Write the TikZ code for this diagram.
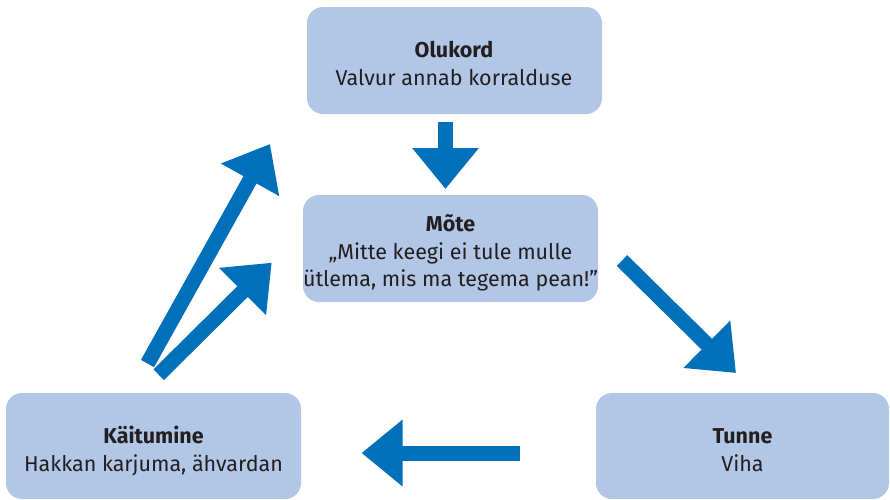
\documentclass[tikz,border=0pt]{standalone}
\usepackage{fontspec}
\setmainfont{Fira Sans}
\usetikzlibrary{arrows.meta}
\definecolor{boxfill}{HTML}{B2C6E6}
\definecolor{arrowblue}{HTML}{0070BA}
\definecolor{txt}{HTML}{231F20}
\tikzset{
  box/.style={draw=none, fill=boxfill, rounded corners=16pt, inner sep=0pt},
  lbl/.style={anchor=base, inner sep=0pt, text=txt, font=\fontsize{21.5}{27}\selectfont},
  ttl/.style={lbl, font=\fontsize{21.5}{27}\selectfont\bfseries},
  bigarrow/.style={draw=arrowblue, line width=15pt, line cap=butt,
    -{Triangle[width=64pt,length=41pt]}},
}
\begin{document}
\begin{tikzpicture}[x=1pt,y=-1pt]
\useasboundingbox (0,0) rectangle (890,499);
% boxes
\node[box, minimum width=295pt, minimum height=107pt] (olukord) at (454.5,60.5) {};
\node[box, minimum width=295pt, minimum height=107pt] (mote) at (450.5,248.5) {};
\node[box, minimum width=295pt, minimum height=106pt] (kaitumine) at (153.5,446) {};
\node[box, minimum width=293pt, minimum height=106pt] (tunne) at (742.5,446) {};
% texts
\node[ttl] (t1a) at (454,57) {Olukord};
\node[lbl] (t1b) at (454,85) {Valvur annab korralduse};
\node[ttl] (t2a) at (450.5,231.5) {Mõte};
\node[lbl] (t2b) at (450.5,259.5) {„Mitte keegi ei tule mulle};
\node[lbl] (t2c) at (450.5,286) {ütlema, mis ma tegema pean!"};
\node[ttl] (t3a) at (153.5,443) {Käitumine};
\node[lbl] (t3b) at (153.5,471.5) {Hakkan karjuma, ähvardan};
\node[ttl] (t4a) at (742.5,443) {Tunne};
\node[lbl] (t4b) at (742.5,471.5) {Viha};
% arrow end points
\coordinate (a1s) at (445.5,122);
\coordinate (a1e) at (445.5,189);
\coordinate (a2s) at (622,260.5);
\coordinate (a2e) at (736,373);
\coordinate (a3s) at (520,453);
\coordinate (a3e) at (361.5,453);
\coordinate (a4s) at (147.5,363.5);
\coordinate (a4e) at (270,144);
\coordinate (a5s) at (158.7,374.7);
\coordinate (a5e) at (271.7,262.7);
% arrows
\draw[bigarrow] (a1s) -- (a1e);
\draw[bigarrow] (a2s) -- (a2e);
\draw[bigarrow] (a3s) -- (a3e);
\draw[bigarrow] (a4s) -- (a4e);
\draw[bigarrow] (a5s) -- (a5e);
\end{tikzpicture}
\end{document}
